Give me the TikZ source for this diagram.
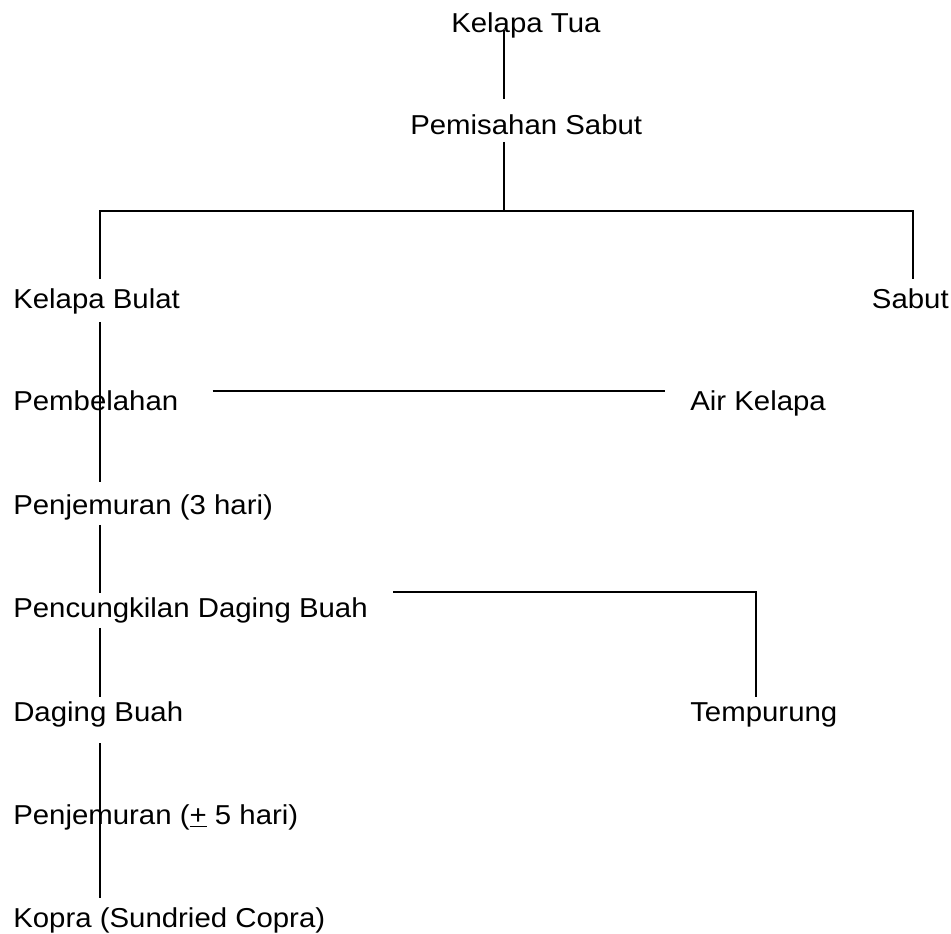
\documentclass[tikz,border=0pt]{standalone}
\usepackage{fontspec}
\setmainfont{Liberation Sans}[FakeStretch=1.075]
\usepackage{tikz}
\usetikzlibrary{calc}

\begin{document}
\begin{tikzpicture}[
        x=0.75pt, y=-0.75pt,
        lbl/.style={inner sep=0pt, anchor=base west, font=\fontsize{20.5}{24}\selectfont},
        conn/.style={draw=black, line width=1.5pt}
    ]
        \useasboundingbox (0,0) rectangle (951,934);

        % Nodes
        \node[lbl] (tua) at (451,33) {Kelapa Tua};
        \node[lbl] (pisah) at (410,135) {Pemisahan Sabut};
        \node[lbl] (bulat) at (13,309) {Kelapa Bulat};
        \node[lbl, anchor=base east] (sabut) at (949,309) {Sabut};
        \node[lbl] (belah) at (13,411) {Pembelahan};
        \node[lbl] (air) at (690,411) {Air Kelapa};
        \node[lbl] (jemur) at (13,515) {Penjemuran (3 hari)};
        \node[lbl] (cungkil) at (13,618) {Pencungkilan Daging Buah};
        \node[lbl] (daging) at (13,721) {Daging Buah};
        \node[lbl] (tempurung) at (690,721) {Tempurung};
        \node[lbl] (jemurb) at (13,824) {Penjemuran (\underline{+} 5 hari)};
        \node[lbl] (kopra) at (13,927) {Kopra (Sundried Copra)};

        \coordinate (split) at (504,211);
        \coordinate (kiri) at (100,211);
        \coordinate (kanan) at (913,211);

        % Edges
        \draw[conn] ($(tua.base -| split)+(0,-3)$) -- ($(pisah.base -| split)+(0,-36)$);
        \draw[conn] ($(pisah.base -| split)+(0,7)$) -- (split);
        \draw[conn] ($(bulat.base -| kiri)+(0,-30)$) -- (kiri) -- (kanan) -- ($(sabut.base -| kanan)+(0,-30)$);
        \draw[conn] ($(bulat.base -| kiri)+(0,13)$) -- ($(jemur.base -| kiri)+(0,-33)$);
        \draw[conn] ($(belah.base east)+(34,-20)$) -- ($(air.base west)+(-25,-20)$);
        \draw[conn] ($(jemur.base -| kiri)+(0,10)$) -- ($(cungkil.base -| kiri)+(0,-25)$);
        \draw[conn] ($(cungkil.base -| kiri)+(0,10)$) -- ($(daging.base -| kiri)+(0,-24)$);
        \draw[conn] ($(cungkil.base east)+(25,-26)$) -| ($(tempurung.base west)+(66,-24)$);
        \draw[conn] ($(daging.base -| kiri)+(0,22)$) -- ($(kopra.base -| kiri)+(0,-29)$);

    \end{tikzpicture}
\end{document}
